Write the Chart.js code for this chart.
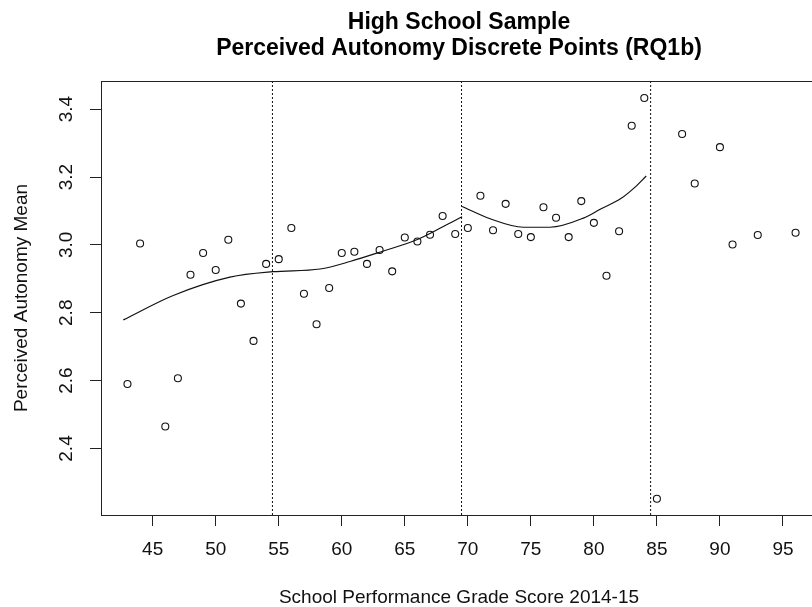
<!DOCTYPE html>
<html lang="en">
<head>
    <meta charset="UTF-8">
    <title>High School Sample - Perceived Autonomy</title>
    <script src="https://cdn.jsdelivr.net/npm/chart.js"></script>
    <style>
        body { margin: 0; background: #fff; }
        #wrap { width: 812px; height: 607px; overflow: hidden; }
        canvas { display: block; }
    </style>
</head>
<body>

<div id="wrap"><canvas id="myChart" width="830" height="607"></canvas></div>

<script>
// school performance grade score (x) and perceived autonomy mean (y)
const scores = [43, 44, 46, 47, 48, 49, 50, 51, 52, 53, 54, 55, 56, 57, 58, 59, 60, 61,
    62, 63, 64, 65, 66, 67, 68, 69, 70, 71, 72, 73, 74, 75, 76, 77, 78, 79, 80, 81,
    82, 83, 84, 85, 87, 88, 90, 91, 93, 96];
const autonomyMeans = [2.590, 3.004, 2.465, 2.607, 2.912, 2.976, 2.926, 3.015, 2.827, 2.717,
    2.944, 2.958, 3.050, 2.856, 2.766, 2.873, 2.976, 2.980, 2.944, 2.985, 2.922, 3.022,
    3.010, 3.030, 3.085, 3.032, 3.050, 3.145, 3.043, 3.121, 3.032, 3.023, 3.111, 3.080,
    3.023, 3.129, 3.065, 2.909, 3.040, 3.351, 3.433, 2.252, 3.327, 3.181, 3.288, 3.001,
    3.029, 3.036];

// smoothed fit, lower segment and middle segment
const fitLowX = [42.67, 46.63, 51.13, 54.52, 58.28, 60.66, 63.3, 65.95, 68.06, 69.55];
const fitLowY = [2.779, 2.851, 2.905, 2.921, 2.929, 2.951, 2.982, 3.015, 3.054, 3.083];
const fitMidX = [69.55, 71.77, 74.41, 76.53, 79.17, 80.5, 82.2, 83.2, 84.15];
const fitMidY = [3.113, 3.077, 3.052, 3.052, 3.079, 3.105, 3.138, 3.168, 3.203];

// cut points (dotted vertical lines)
const cutPoints = [54.5, 69.5, 84.5];

const xTicks = [45, 50, 55, 60, 65, 70, 75, 80, 85, 90, 95];
const yTicks = [2.4, 2.6, 2.8, 3.0, 3.2, 3.4];
const xMin = 40.9, xMax = 97.7;
const yMin = 2.204, yMax = 3.483;

const titleLines = ['High School Sample', 'Perceived Autonomy Discrete Points (RQ1b)'];
const xTitle = 'School Performance Grade Score 2014-15';
const yTitle = 'Perceived Autonomy Mean';

const FONT = '"Liberation Sans", Arial, sans-serif';
Chart.defaults.font.family = FONT;
Chart.defaults.color = '#111';

const toXY = (xs, ys) => xs.map((x, i) => ({x: x, y: ys[i]}));

const datasets = [{
    label: 'points',
    data: toXY(scores, autonomyMeans),
    pointStyle: 'circle',
    pointRadius: 3.5,
    pointBorderWidth: 1.1,
    pointBorderColor: '#111',
    pointBackgroundColor: 'rgba(0,0,0,0)',
    showLine: false
}, {
    label: 'fit low',
    data: toXY(fitLowX, fitLowY),
    showLine: true, pointRadius: 0, borderColor: '#111', borderWidth: 1.2,
    cubicInterpolationMode: 'monotone'
}, {
    label: 'fit mid',
    data: toXY(fitMidX, fitMidY),
    showLine: true, pointRadius: 0, borderColor: '#111', borderWidth: 1.2,
    cubicInterpolationMode: 'monotone'
}];

cutPoints.forEach(c => {
    datasets.push({
        label: 'cut ' + c,
        data: [{x: c, y: yMin}, {x: c, y: yMax}],
        showLine: true, pointRadius: 0, borderColor: '#111', borderWidth: 1,
        borderDash: [2, 2]
    });
});

// frame box, rotated y tick labels and the two-line title
const extras = {
    id: 'extras',
    afterDraw(chart) {
        const {ctx, chartArea: a, scales: {y}} = chart;
        ctx.save();
        ctx.strokeStyle = '#222';
        ctx.lineWidth = 1;
        ctx.strokeRect(Math.round(a.left) + 0.5, Math.round(a.top) + 0.5,
            Math.round(a.right - a.left), Math.round(a.bottom - a.top));

        ctx.fillStyle = '#111';
        ctx.font = '19px ' + FONT;
        ctx.textAlign = 'center';
        ctx.textBaseline = 'middle';
        yTicks.forEach(v => {
            ctx.save();
            ctx.translate(67, y.getPixelForValue(v));
            ctx.rotate(-Math.PI / 2);
            ctx.fillText(v.toFixed(1), 0, 0);
            ctx.restore();
        });

        const cx = (a.left + a.right) / 2;
        ctx.fillStyle = '#000';
        ctx.font = 'bold 23px ' + FONT;
        ctx.fillText(titleLines[0], cx, 23);
        ctx.fillText(titleLines[1], cx, 49);
        ctx.restore();
    }
};

new Chart(document.getElementById('myChart').getContext('2d'), {
    type: 'scatter',
    data: {datasets: datasets},
    plugins: [extras],
    options: {
        responsive: false,
        animation: false,
        layout: {padding: {top: 81, right: 13, bottom: 0, left: 0}},
        plugins: {legend: {display: false}, tooltip: {enabled: false}, title: {display: false}},
        scales: {
            x: {
                type: 'linear',
                min: xMin, max: xMax,
                afterBuildTicks: s => { s.ticks = xTicks.map(v => ({value: v})); },
                afterFit: s => { s.height = 92; s.paddingLeft = 0; s.paddingRight = 0; },
                border: {display: false},
                grid: {drawOnChartArea: false, drawTicks: true, tickLength: 11, color: '#222'},
                ticks: {
                    font: {size: 19, lineHeight: 1.2},
                    color: '#111',
                    padding: 12,
                    maxRotation: 0,
                    autoSkip: false
                },
                title: {
                    display: true, text: xTitle, color: '#111',
                    font: {size: 19, lineHeight: 1.0},
                    padding: {top: 0, bottom: 0}
                }
            },
            y: {
                type: 'linear',
                min: yMin, max: yMax,
                afterBuildTicks: s => { s.ticks = yTicks.map(v => ({value: v})); },
                afterFit: s => { s.width = 101; },
                border: {display: false},
                grid: {drawOnChartArea: false, drawTicks: true, tickLength: 11, color: '#222'},
                ticks: {display: false},
                title: {
                    display: true, text: yTitle, color: '#111',
                    font: {size: 19, lineHeight: 1.0},
                    padding: {top: 12, bottom: 0}
                }
            }
        }
    }
});
</script>

</body>
</html>
